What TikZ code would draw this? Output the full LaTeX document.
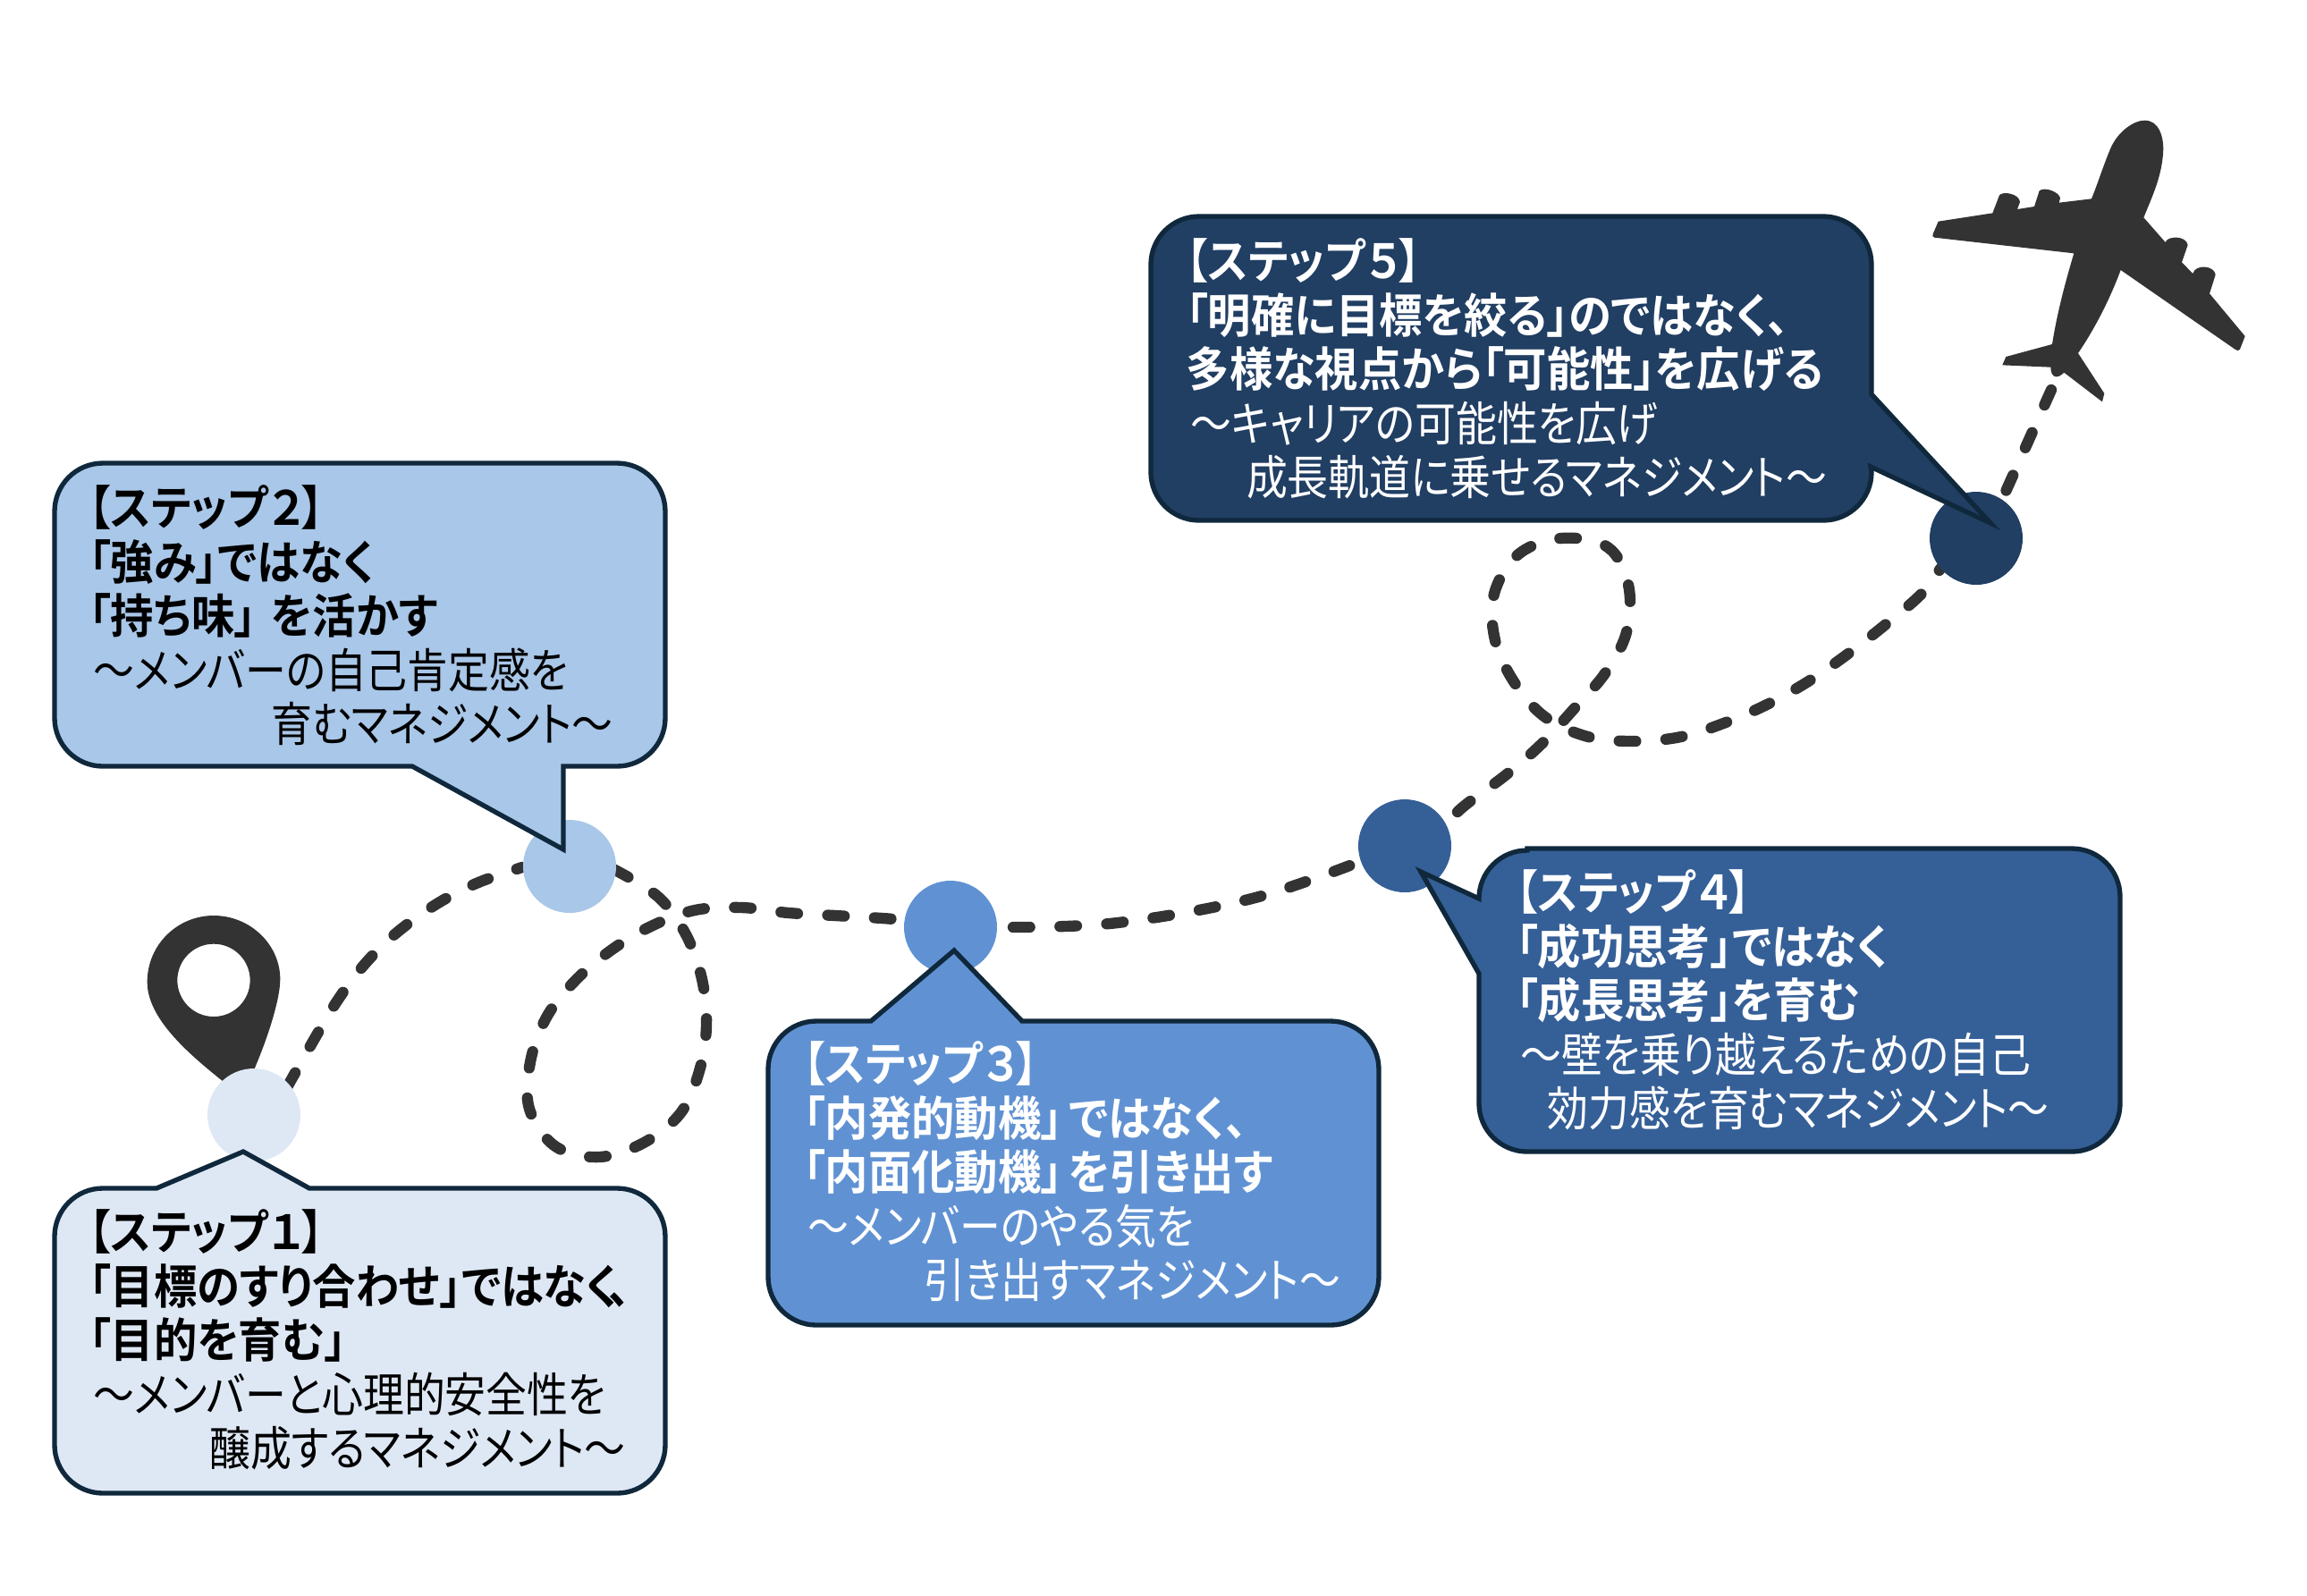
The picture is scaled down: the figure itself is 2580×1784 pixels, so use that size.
\documentclass[tikz,border=0pt]{standalone}
\usepackage{fontspec}
\setmainfont[FakeStretch=0.871,RawFeature={+palt}]{Noto Sans CJK JP}
\newfontfamily\boldjp[FakeStretch=0.918,RawFeature={+palt}]{Noto Sans CJK JP Bold}
\newfontfamily\boldfw[FakeStretch=0.918]{Noto Sans CJK JP Bold}
\definecolor{edge}{HTML}{10283C}
\definecolor{ink}{HTML}{333333}
\definecolor{cA}{HTML}{DEE8F5}
\definecolor{cB}{HTML}{A9C7E8}
\definecolor{cC}{HTML}{6092D3}
\definecolor{cD}{HTML}{355F97}
\definecolor{cE}{HTML}{213E63}
\tikzset{
 x=0.3pt,y=-0.3pt,
 bubble/.style={draw=edge,line width=1.6pt,line join=miter},
 dot/.style={circle,inner sep=0pt,minimum size=31.2pt},
 trail/.style={draw=ink,line width=3.7pt,line cap=round,dash pattern=on 5.6pt off 10.1pt},
 label/.style={anchor=north west,align=left,inner sep=0pt,font=\fontsize{15.8pt}{18.15pt}\selectfont},
}
\newcommand{\bb}[1]{{\boldjp #1}}
\newcommand{\stp}[1]{{\boldjp 【ステップ\hspace{-1pt}{\boldfw #1}\hspace{-2pt}】}}
\newcommand{\ind}[1]{\hspace*{#1pt}}
\begin{document}
\begin{tikzpicture}
\useasboundingbox (0,0) rectangle (2580,1784);
\coordinate (t1a) at (321,1216);
\coordinate (t1b) at (584,970);
\coordinate (t2a) at (686,972);
\coordinate (t2b) at (1010,1029);
\coordinate (t3a) at (1133,1037);
\coordinate (t3b) at (1525,962);
\coordinate (t4a) at (1630,908);
\coordinate (t4b) at (2170,636);
\coordinate (t5a) at (2225,590);
\coordinate (t5b) at (2294,436);
% trails
\draw[trail] plot[smooth,tension=0.6] coordinates {(t1a) (351,1163) (378,1118) (409,1077) (445,1042) (490,1010) (535,987) (t1b)};
\draw[trail] plot[smooth,tension=0.6] coordinates {(t2a) (736,1003) (767,1045) (785,1095) (790,1147) (782,1198) (761,1245) (720,1278) (670,1294) (621,1282) (592,1240) (593,1188) (611,1138) (643,1097) (683,1063) (728,1036) (777,1018) (829,1015) (882,1021) (934,1024) (987,1027) (t2b)};
\draw[trail] plot[smooth,tension=0.6] coordinates {(t3a) (1250,1032) (1400,1005) (t3b)};
\draw[trail] plot[smooth,tension=0.6] coordinates {(t4a) (1643,897) (1685,866) (1724,832) (1760,793) (1795,753) (1819,707) (1821,654) (1798,612) (1746,602) (1698,620) (1671,664) (1672,716) (1694,764) (1728,802) (1776,824) (1828,829) (1880,824) (1930,808) (1978,787) (2024,761) (2067,731) (2108,699) (2148,665) (t4b)};
\draw[trail] (t5b) -- (t5a);
% pin
\begin{scope}[shift={(120,980)},scale=1/3]
\fill[ink,even odd rule] (134,355) .. controls (134,230) and (235,132) .. (357,132)
  .. controls (480,132) and (580,230) .. (580,345)
  .. controls (580,420) and (530,570) .. (470,700) -- (440,730)
  .. controls (330,640) and (134,500) .. (134,355) -- cycle
  (357,349) circle[radius=122];
\end{scope}
% plane
\begin{scope}[shift={(2100,100)},scale=1/3]
\fill[ink] (895,104) .. controls (945,104) and (958,160) .. (958,200)
 .. controls (955,290) and (920,360) .. (892,430) -- (965,513)
 .. controls (972,490) and (1035,490) .. (1040,522) -- (1020,580) -- (1057,618)
 .. controls (1065,585) and (1130,590) .. (1133,622) -- (1113,685) -- (1232,828) -- (1215,872)
 .. controls (1212,878) and (1205,877) .. (1200,873) -- (815,606)
 .. controls (780,700) and (730,800) .. (672,885) -- (760,1020) -- (753,1048) -- (625,950)
 .. controls (600,975) and (580,965) .. (580,932) -- (418,925) -- (430,897) -- (585,855)
 .. controls (600,760) and (625,660) .. (658,550) -- (190,497) .. controls (183,495) and (183,490) .. (185,485)
 -- (203,443) -- (385,415) -- (408,355) .. controls (420,340) and (475,350) .. (477,378) -- (468,402) -- (525,393)
 -- (542,340) .. controls (560,325) and (610,345) .. (612,365) -- (608,380) -- (717,367)
 .. controls (740,310) and (755,260) .. (780,200) .. controls (805,140) and (860,104) .. (895,104) -- cycle;
\end{scope}
% dots
\node[dot,fill=cA] (d1) at (284,1247) {};
\node[dot,fill=cB] (d2) at (637,969) {};
\node[dot,fill=cC] (d3) at (1063,1037) {};
\node[dot,fill=cD] (d4) at (1571,946) {};
\node[dot,fill=cE] (d5) at (2210,602) {};
% bubbles
\draw[bubble,fill=cA] (115,1329) -- (175,1329) -- (272,1288) -- (346,1329) -- (690,1329)
  arc[start angle=-90,end angle=0,radius=54] -- (744,1616) arc[start angle=0,end angle=90,radius=54]
  -- (115,1670) arc[start angle=90,end angle=180,radius=54] -- (61,1383) arc[start angle=180,end angle=270,radius=54] -- cycle;
\draw[bubble,fill=cB] (115,518) -- (690,518)
  arc[start angle=-90,end angle=0,radius=54] -- (744,803) arc[start angle=0,end angle=90,radius=54]
  -- (630,857) -- (630,950) -- (461,857) -- (115,857) arc[start angle=90,end angle=180,radius=54] -- (61,572) arc[start angle=180,end angle=270,radius=54] -- cycle;
\draw[bubble,fill=cC] (913,1142) -- (974,1142) -- (1067,1063) -- (1143,1142) -- (1488,1142)
  arc[start angle=-90,end angle=0,radius=54] -- (1542,1428) arc[start angle=0,end angle=90,radius=54]
  -- (913,1482) arc[start angle=90,end angle=180,radius=54] -- (859,1196) arc[start angle=180,end angle=270,radius=54] -- cycle;
\draw[bubble,fill=cD] (1708,949) -- (2317,949)
  arc[start angle=-90,end angle=0,radius=54] -- (2371,1234) arc[start angle=0,end angle=90,radius=54]
  -- (1708,1288) arc[start angle=90,end angle=180,radius=54] -- (1654,1089) -- (1589,975) -- (1654,1005) arc[start angle=180,end angle=270,radius=54] -- cycle;
\draw[bubble,fill=cE] (1341,242) -- (2039,242)
  arc[start angle=-90,end angle=0,radius=54] -- (2093,441) -- (2226,585) -- (2092,522) -- (2093,528)
  arc[start angle=0,end angle=90,radius=54]
  -- (1341,582) arc[start angle=90,end angle=180,radius=54] -- (1287,296) arc[start angle=180,end angle=270,radius=54] -- cycle;
% texts
\node[label,text=black] (l1) at (99,1352) {\stp{１}\\\bb{「目標のすり合わせ」ではなく\hspace{-3pt}、}\\\bb{「目的を育む」}\\\ind{1.5}〜メンバーと心理的安全性を\\\ind{40.5}醸成するマネジメント〜};
\node[label,text=black] (l2) at (99,542) {\stp{２}\\\bb{「強み」ではなく}\\\bb{「持ち味」\hspace{5pt}を活かす}\\\ind{1.5}〜メンバーの自己肯定感を\\\ind{61.2}育むマネジメント〜};
\node[label,text=white] (l3) at (898,1164) {\stp{３}\\\bb{「内発的動機」\hspace{2pt}ではなく、}\\\bb{「内面化動機」\hspace{2pt}を引き出す}\\\ind{1.5}〜メンバーのやる気を\\\ind{40.5}引き出すマネジメント〜};
\node[label,text=white] (l4) at (1695,972) {\stp{４}\\\bb{「成功思考」ではなく}\\\bb{「成長思考」を育む}\\\ind{1.5}〜壁を乗り越えるための自己\\\ind{10.4}効力感を育むマネジメント〜};
\node[label,text=white] (l5) at (1326,266) {\stp{５}\\\bb{「明確に目標を絞る」のではなく、}\\\bb{多様な視点から「可能性」を広げる}\\\ind{1.5}〜キャリアの可能性を広げ\\\ind{20.2}成長軌道に乗せるマネジメント〜};
\end{tikzpicture}
\end{document}
